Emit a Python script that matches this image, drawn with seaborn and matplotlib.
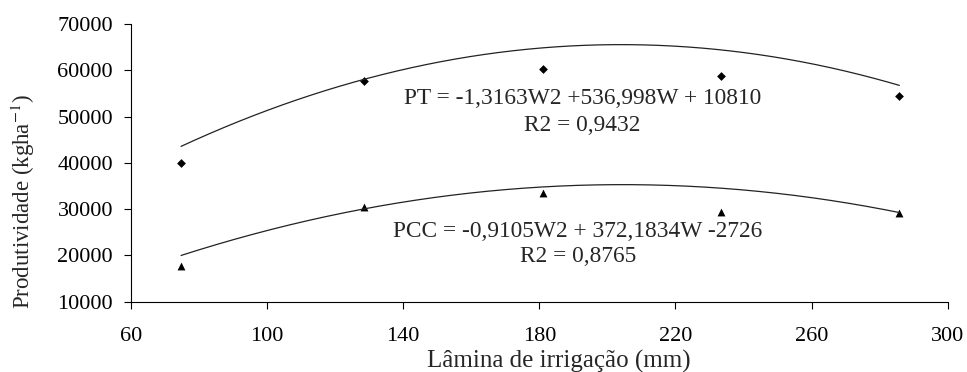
import numpy as np
import pandas as pd
import seaborn as sns
import matplotlib.pyplot as plt

# lamina de irrigacao (mm) and produtividade (kg/ha)
lamina = [74.7, 128.5, 181.1, 233.5, 285.8]
pt = [39930, 57740, 60330, 58820, 54560]
pcc = [17780, 30550, 33570, 29460, 29120]

# quadratic fits as printed on the chart (a*W^2 + b*W + c)
coef_pt = [-1.3163, 536.998, 10810]
coef_pcc = [-0.9105, 372.1834, -2726]

eq_pt = "PT = -1,3163W2 +536,998W + 10810"
r2_pt = "R2 = 0,9432"
eq_pcc = "PCC = -0,9105W2 + 372,1834W -2726"
r2_pcc = "R2 = 0,8765"

df = pd.DataFrame({"lamina": lamina, "PT": pt, "PCC": pcc})
w = np.linspace(min(lamina), max(lamina), 200)
fit = pd.DataFrame({"w": w, "PT": np.polyval(coef_pt, w), "PCC": np.polyval(coef_pcc, w)})

sns.set_style("ticks")
plt.rcParams["font.family"] = ["Liberation Serif", "DejaVu Serif"]
plt.rcParams["mathtext.fontset"] = "stix"

fig = plt.figure(figsize=(9.67, 3.72), dpi=100)
ax = fig.add_axes([0.1355, 0.189, 0.8445, 0.746])

sns.lineplot(data=fit, x="w", y="PT", ax=ax, color="#222222", lw=0.9)
sns.lineplot(data=fit, x="w", y="PCC", ax=ax, color="#222222", lw=0.9)
sns.scatterplot(data=df, x="lamina", y="PT", ax=ax, marker="D", s=20,
                color="black", linewidth=0)
sns.scatterplot(data=df, x="lamina", y="PCC", ax=ax, marker="^", s=32,
                color="black", linewidth=0)

ax.text(192.7, 53990, eq_pt, ha="center", va="center", fontsize=16.8)
ax.text(192.7, 48070, r2_pt, ha="center", va="center", fontsize=16.8)
ax.text(191.3, 25140, eq_pcc, ha="center", va="center", fontsize=16.8)
ax.text(191.3, 19730, r2_pcc, ha="center", va="center", fontsize=16.8)

ax.set_xlim(60, 300)
ax.set_ylim(10000, 70000)
ax.set_xticks(range(60, 301, 40))
ax.set_yticks(range(10000, 70001, 10000))
ax.tick_params(labelsize=16, length=5, width=0.8, colors="black")
ax.tick_params(axis="x", pad=13)
ax.tick_params(axis="y", pad=8)
ax.set_xlabel("Lâmina de irrigação (mm)", fontsize=18)
ax.set_ylabel("Produtividade (kgha$^{-1}$)", fontsize=16.5)
ax.xaxis.set_label_coords(0.524, -0.175)
ax.yaxis.set_label_coords(-0.115, 0.36)
sns.despine(ax=ax)
for s in ["left", "bottom"]:
    ax.spines[s].set_color("black")
    ax.spines[s].set_linewidth(0.8)

fig.savefig("out.png", dpi=100)
